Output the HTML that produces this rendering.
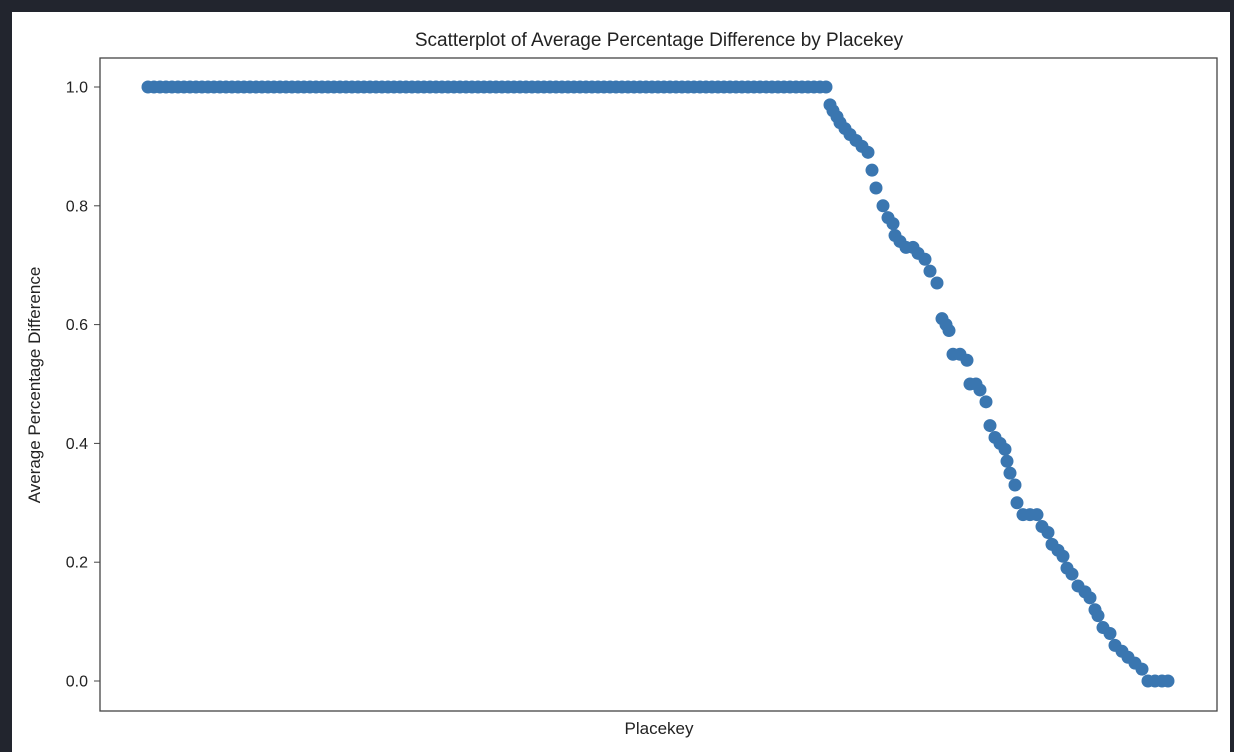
<!DOCTYPE html>
<html><head><meta charset="utf-8"><style>
body{margin:0;background:#22252e;}
svg{display:block;font-family:"Liberation Sans","DejaVu Sans",sans-serif;}
</style></head><body>
<svg width="1234" height="752">
<rect x="0" y="0" width="1234" height="752" fill="#22252e"/>
<rect x="12" y="12" width="1218" height="740" fill="#fff"/>
<text x="659" y="46" text-anchor="middle" font-size="19" fill="#222">Scatterplot of Average Percentage Difference by Placekey</text>
<g id="yaxis"></g>
<g id="marks"></g>
<rect x="100" y="58" width="1117" height="653" fill="none" stroke="#444" stroke-width="1.3"/>
<text x="659" y="734" text-anchor="middle" font-size="17" fill="#222">Placekey</text>
<text transform="translate(40,385) rotate(-90)" text-anchor="middle" font-size="17" fill="#222">Average Percentage Difference</text>
</svg>
<script>
const yTicks=[0,0.2,0.4,0.6,0.8,1.0];
const yTickLabels=["0.0","0.2","0.4","0.6","0.8","1.0"];
const flatIdx=[0,6,12,18,24,30,36,42,48,54,60,66,72,78,84,90,96,102,108,114,120,126,132,138,144,150,156,162,168,174,180,186,192,198,204,210,216,222,228,234,240,246,252,258,264,270,276,282,288,294,300,306,312,318,324,330,336,342,348,354,360,366,372,378,384,390,396,402,408,414,420,426,432,438,444,450,456,462,468,474,480,486,492,498,504,510,516,522,528,534,540,546,552,558,564,570,576,582,588,594,600,606,612,618,624,630,636,642,648,654,660,666,672,678];
const flatVals=[1,1,1,1,1,1,1,1,1,1,1,1,1,1,1,1,1,1,1,1,1,1,1,1,1,1,1,1,1,1,1,1,1,1,1,1,1,1,1,1,1,1,1,1,1,1,1,1,1,1,1,1,1,1,1,1,1,1,1,1,1,1,1,1,1,1,1,1,1,1,1,1,1,1,1,1,1,1,1,1,1,1,1,1,1,1,1,1,1,1,1,1,1,1,1,1,1,1,1,1,1,1,1,1,1,1,1,1,1,1,1,1,1,1];
const dropIdx=[682,685,689,692,697,702,708,714,720,724,728,735,740,745,747,752,758,765,770,777,782,789,794,798,801,805,812,819,822,828,832,838,842,847,852,857,859,862,867,869,875,882,889,894,900,904,910,915,919,924,930,937,942,947,950,955,962,967,974,980,987,994,1000,1007,1014,1020];
const dropVals=[0.97,0.96,0.95,0.94,0.93,0.92,0.91,0.90,0.89,0.86,0.83,0.80,0.78,0.77,0.75,0.74,0.73,0.73,0.72,0.71,0.69,0.67,0.61,0.60,0.59,0.55,0.55,0.54,0.50,0.50,0.49,0.47,0.43,0.41,0.40,0.39,0.37,0.35,0.33,0.30,0.28,0.28,0.28,0.26,0.25,0.23,0.22,0.21,0.19,0.18,0.16,0.15,0.14,0.12,0.11,0.09,0.08,0.06,0.05,0.04,0.03,0.02,0.00,0.00,0.00,0.00];
const NS="http://www.w3.org/2000/svg";
const xS=v=>148+v;
const yS=v=>681-v*594;
const ya=document.getElementById('yaxis');
yTicks.forEach((t,i)=>{
  const l=document.createElementNS(NS,'line');
  l.setAttribute('x1',94);l.setAttribute('x2',100);l.setAttribute('y1',yS(t));l.setAttribute('y2',yS(t));
  l.setAttribute('stroke','#444');
  
  
  ya.appendChild(l);
  const tx=document.createElementNS(NS,'text');
  tx.setAttribute('x',88);tx.setAttribute('y',yS(t)+5.5);tx.setAttribute('text-anchor','end');
  tx.setAttribute('font-size','16');tx.setAttribute('fill','#222');
  tx.textContent=yTickLabels[i];
  
  
  ya.appendChild(tx);
});
const mk=document.getElementById('marks');
function draw(idx,vals){
  idx.forEach((x,i)=>{
    const c=document.createElementNS(NS,'circle');
    c.setAttribute('cx',xS(x));c.setAttribute('cy',yS(vals[i]));c.setAttribute('r',6.5);
    c.setAttribute('fill','#3a76b0');
    
    
    mk.appendChild(c);
  });
}
draw(flatIdx,flatVals);
draw(dropIdx,dropVals);
</script>
</body></html>
